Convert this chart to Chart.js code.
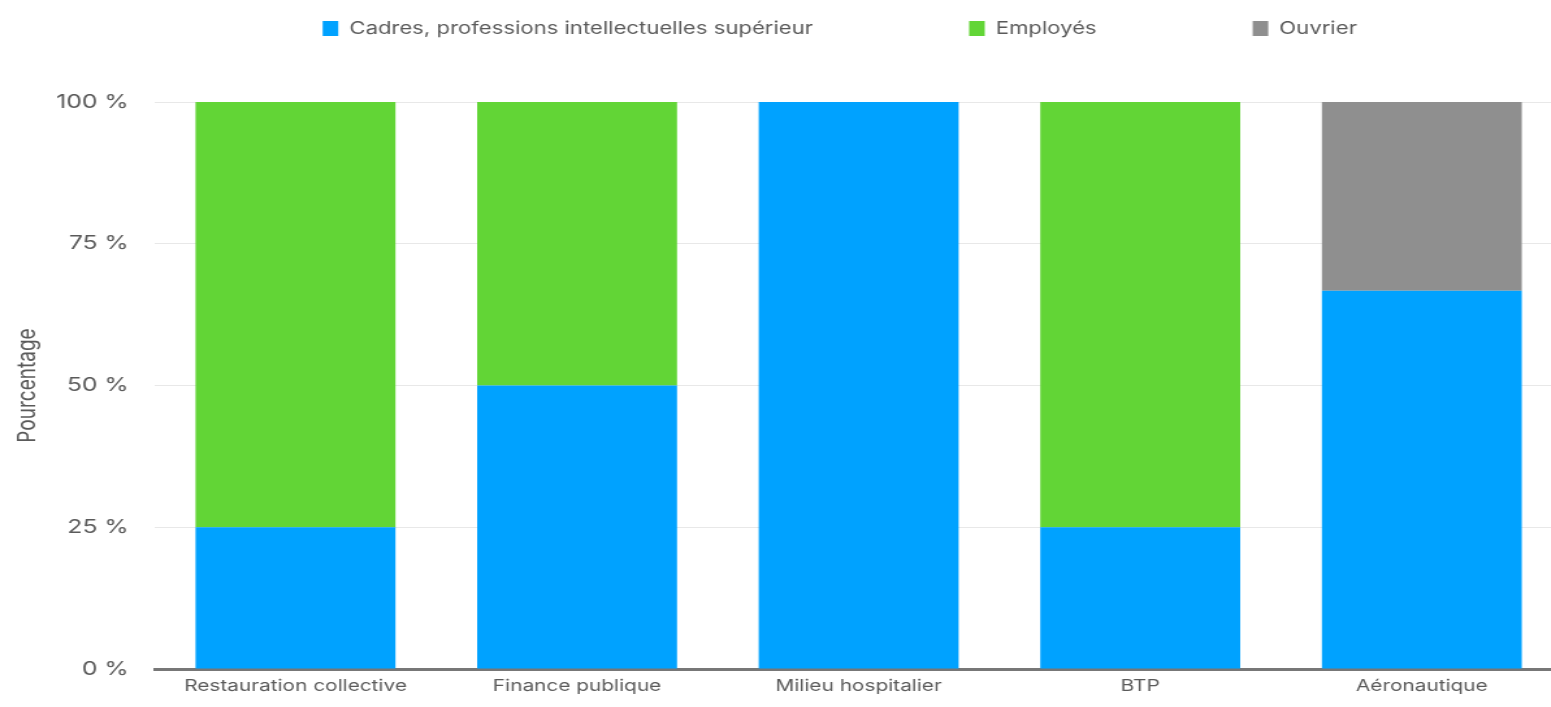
<!DOCTYPE html>
<html>
<head>
<meta charset="utf-8">
<script src="https://cdn.jsdelivr.net/npm/chart.js@4/dist/chart.umd.min.js"></script>
<style>
  html, body { margin: 0; padding: 0; background: #fff; overflow: hidden; width: 1551px; height: 707px; }
  /* the reference looks horizontally stretched, so draw narrow and stretch */
  #wrap { width: 1202px; height: 707px; transform: scaleX(1.3); transform-origin: 0 0; }
</style>
</head>
<body>
<div id="wrap"><canvas id="chart"></canvas></div>
<script>
const sectors = ['Restauration collective', 'Finance publique', 'Milieu hospitalier', 'BTP', 'Aéronautique'];
const cadres = [25, 50, 100, 25, 66.7];
const employes = [75, 50, 0, 75, 0];
const ouvriers = [0, 0, 0, 0, 33.3];
const yTicks = [0, 25, 50, 75, 100];

const textColor = '#5a5a5a';
const fontFamily = 'Inter, "Noto Sans", sans-serif';
const legendGap = 120;

// keep the wide item spacing without the legend eating vertical space
const legendTweak = {
  id: 'legendTweak',
  beforeInit(chart) {
    const fit = chart.legend.fit;
    chart.legend.fit = function () {
      fit.call(this);
      this.height = 102;
    };
  },
  afterLayout(chart) {
    chart.legend.top = 20 - legendGap;
    chart.legend.left += 90;
  }
};

const ctx = document.getElementById('chart').getContext('2d');
new Chart(ctx, {
  type: 'bar',
  data: {
    labels: sectors,
    datasets: [
      { label: 'Cadres, professions intellectuelles supérieur', data: cadres, backgroundColor: '#00a2ff' },
      { label: 'Employés', data: employes, backgroundColor: '#62d536' },
      { label: 'Ouvrier', data: ouvriers, backgroundColor: '#8f8f8f' }
    ]
  },
  plugins: [legendTweak],
  options: {
    responsive: true,
    maintainAspectRatio: false,
    animation: false,
    layout: { padding: 0 },
    datasets: { bar: { barPercentage: 0.71, categoryPercentage: 1 } },
    plugins: {
      legend: {
        position: 'top',
        labels: {
          boxWidth: 12,
          boxHeight: 15,
          padding: legendGap,
          color: textColor,
          font: { family: fontFamily, size: 17 }
        }
      },
      tooltip: { enabled: false }
    },
    scales: {
      x: {
        stacked: true,
        grid: { display: false, drawTicks: false },
        border: { display: true, color: '#777777', width: 3 },
        afterFit: axis => { axis.height = 38; },
        ticks: { color: textColor, padding: 8, font: { family: fontFamily, size: 16 } }
      },
      y: {
        stacked: true,
        min: 0,
        max: 100,
        afterBuildTicks: axis => { axis.ticks = yTicks.map(v => ({ value: v })); },
        afterFit: axis => { axis.width = 119; },
        grid: { color: '#e8e8e8', drawTicks: false },
        border: { display: false },
        ticks: {
          color: textColor,
          padding: 20,
          font: { family: fontFamily, size: 19 },
          callback: v => v + ' %'
        },
        title: {
          display: true,
          text: 'Pourcentage',
          color: textColor,
          font: { family: fontFamily, size: 19 },
          padding: { top: 10, bottom: 0 }
        }
      }
    }
  }
});
</script>
</body>
</html>
